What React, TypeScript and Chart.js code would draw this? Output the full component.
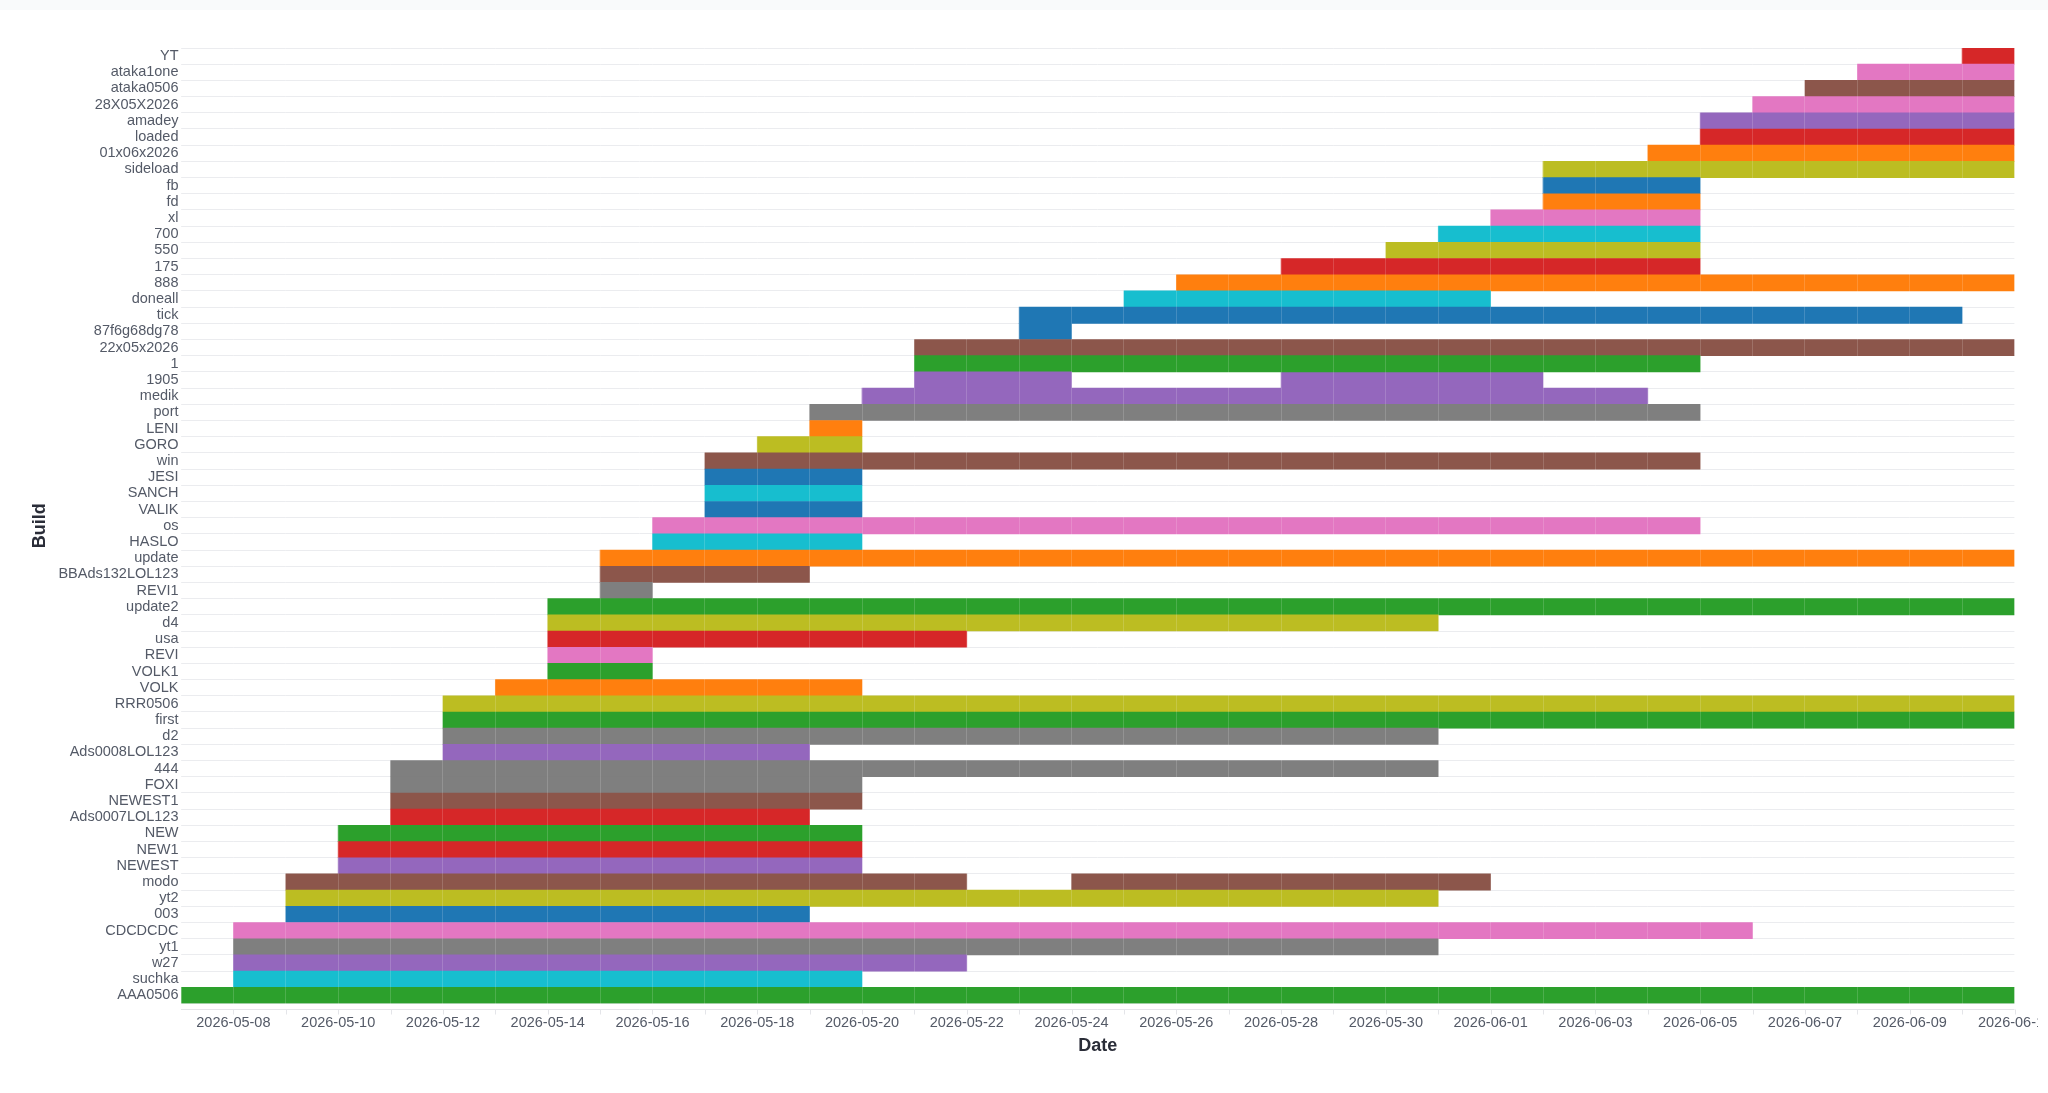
import React, { useEffect, useRef } from "react";
import { Chart, registerables } from "chart.js";

Chart.register(...registerables);

// Builds, top row first
const builds = [
  "YT", "ataka1one", "ataka0506", "28X05X2026", "amadey", "loaded", "01x06x2026", "sideload",
  "fb", "fd", "xl", "700", "550", "175", "888", "doneall", "tick", "87f6g68dg78", "22x05x2026",
  "1", "1905", "medik", "port", "LENI", "GORO", "win", "JESI", "SANCH", "VALIK", "os", "HASLO",
  "update", "BBAds132LOL123", "REVI1", "update2", "d4", "usa", "REVI", "VOLK1", "VOLK", "RRR0506",
  "first", "d2", "Ads0008LOL123", "444", "FOXI", "NEWEST1", "Ads0007LOL123", "NEW", "NEW1", "NEWEST",
  "modo", "yt2", "003", "CDCDCDC", "yt1", "w27", "suchka", "AAA0506",
];

const startDates = [
  "2026-06-10", "2026-06-08", "2026-06-07", "2026-06-06", "2026-06-05", "2026-06-05", "2026-06-04", "2026-06-02",
  "2026-06-02", "2026-06-02", "2026-06-01", "2026-05-31", "2026-05-30", "2026-05-28", "2026-05-26", "2026-05-25",
  "2026-05-23", "2026-05-23", "2026-05-21",
  "2026-05-21", "2026-05-21", "2026-05-20", "2026-05-19", "2026-05-19", "2026-05-18", "2026-05-17", "2026-05-17",
  "2026-05-17", "2026-05-17", "2026-05-16", "2026-05-16",
  "2026-05-15", "2026-05-15", "2026-05-15", "2026-05-14", "2026-05-14", "2026-05-14", "2026-05-14", "2026-05-14",
  "2026-05-13", "2026-05-12",
  "2026-05-12", "2026-05-12", "2026-05-12", "2026-05-11", "2026-05-11", "2026-05-11", "2026-05-11", "2026-05-10",
  "2026-05-10", "2026-05-10",
  "2026-05-09", "2026-05-09", "2026-05-09", "2026-05-08", "2026-05-08", "2026-05-08", "2026-05-08", "2026-05-07",
];

const endDates = [
  "2026-06-11", "2026-06-11", "2026-06-11", "2026-06-11", "2026-06-11", "2026-06-11", "2026-06-11", "2026-06-11",
  "2026-06-05", "2026-06-05", "2026-06-05", "2026-06-05", "2026-06-05", "2026-06-05", "2026-06-11", "2026-06-01",
  "2026-06-10", "2026-05-24", "2026-06-11",
  "2026-06-05", "2026-05-24", "2026-06-04", "2026-06-05", "2026-05-20", "2026-05-20", "2026-06-05", "2026-05-20",
  "2026-05-20", "2026-05-20", "2026-06-05", "2026-05-20",
  "2026-06-11", "2026-05-19", "2026-05-16", "2026-06-11", "2026-05-31", "2026-05-22", "2026-05-16", "2026-05-16",
  "2026-05-20", "2026-06-11",
  "2026-06-11", "2026-05-31", "2026-05-19", "2026-05-31", "2026-05-20", "2026-05-20", "2026-05-19", "2026-05-20",
  "2026-05-20", "2026-05-20",
  "2026-05-22", "2026-05-31", "2026-05-19", "2026-06-06", "2026-05-31", "2026-05-22", "2026-05-20", "2026-06-11",
];

// Builds that came back after a pause: their second run
const resumedBuilds = ["1905", "modo"];
const resumedStarts = ["2026-05-28", "2026-05-24"];
const resumedEnds = ["2026-06-02", "2026-06-01"];

const axisStart = "2026-05-07";
const axisEnd = "2026-06-11";

const PALETTE: Record<string, string> = {
  blue: "#1f77b4",
  orange: "#ff7f0e",
  green: "#2ca02c",
  red: "#d62728",
  purple: "#9467bd",
  brown: "#8c564b",
  pink: "#e377c2",
  gray: "#7f7f7f",
  olive: "#bcbd22",
  cyan: "#17becf",
};

const buildColors = [
  "red", "pink", "brown", "pink", "purple", "red", "orange", "olive",
  "blue", "orange", "pink", "cyan", "olive", "red", "orange", "cyan", "blue", "blue", "brown",
  "green", "purple", "purple", "gray", "orange", "olive", "brown", "blue", "cyan", "blue", "pink", "cyan",
  "orange", "brown", "gray", "green", "olive", "red", "pink", "green", "orange", "olive",
  "green", "gray", "purple", "gray", "gray", "brown", "red", "green", "red", "purple",
  "brown", "olive", "blue", "pink", "gray", "purple", "cyan", "green",
];

const DAY_MS = 86400000;
const ORIGIN = Date.parse(axisStart + "T00:00:00Z");

const toDay = (iso: string) => (Date.parse(iso + "T00:00:00Z") - ORIGIN) / DAY_MS;
const fromDay = (d: number) => new Date(ORIGIN + d * DAY_MS).toISOString().slice(0, 10);

const FONT_FAMILY = "'Liberation Sans', Arial, Helvetica, sans-serif";
const TICK_COLOR = "#545a67";
const TITLE_COLOR = "#2a2d38";

// Axis baseline with daily tick marks, set slightly below the plot area
const dateAxisLine = {
  id: "dateAxisLine",
  afterDraw(chart: any) {
    const { ctx, chartArea, scales } = chart;
    const x = scales.x;
    const yLine = Math.round(chartArea.bottom + 5.5) + 0.5;
    ctx.save();
    ctx.strokeStyle = "#e4e5e9";
    ctx.lineWidth = 1;
    ctx.beginPath();
    ctx.moveTo(chartArea.left, yLine);
    ctx.lineTo(chartArea.right, yLine);
    for (let d = x.min + 1; d <= x.max; d++) {
      const px = Math.round(x.getPixelForValue(d)) + 0.5;
      ctx.moveTo(px, yLine);
      ctx.lineTo(px, yLine + 5);
    }
    ctx.stroke();
    ctx.restore();
  },
};

export default function App() {
  const canvasRef = useRef<HTMLCanvasElement | null>(null);

  useEffect(() => {
    const canvas = canvasRef.current;
    if (!canvas) return;

    const rowColors = buildColors.map((c) => PALETTE[c]);
    const mainData = builds.map((_, i) => [toDay(startDates[i]), toDay(endDates[i])]);
    const resumedData = builds.map((b) => {
      const k = resumedBuilds.indexOf(b);
      return k < 0 ? null : [toDay(resumedStarts[k]), toDay(resumedEnds[k])];
    });

    const minDay = toDay(axisStart);
    const maxDay = toDay(axisEnd);
    const dayTicks: { value: number }[] = [];
    for (let d = minDay; d <= maxDay; d++) dayTicks.push({ value: d });

    const chart = new Chart(canvas, {
      type: "bar",
      data: {
        labels: builds,
        datasets: [
          {
            label: "Run",
            data: mainData as any,
            backgroundColor: rowColors,
            borderWidth: 0,
            barPercentage: 1,
            categoryPercentage: 1,
            grouped: false,
          },
          {
            label: "Resumed run",
            data: resumedData as any,
            backgroundColor: rowColors,
            borderWidth: 0,
            barPercentage: 1,
            categoryPercentage: 1,
            grouped: false,
          },
        ],
      },
      options: {
        indexAxis: "y",
        animation: false,
        responsive: false,
        devicePixelRatio: 1,
        layout: { padding: { top: 48, right: 85.5, bottom: 0, left: 0 } },
        plugins: {
          legend: { display: false },
          tooltip: { enabled: false },
        },
        scales: {
          x: {
            type: "linear",
            min: minDay,
            max: maxDay,
            afterBuildTicks: (scale: any) => {
              scale.ticks = dayTicks.map((t) => ({ ...t }));
            },
            afterFit: (scale: any) => {
              scale.height = 89.5;
            },
            ticks: {
              autoSkip: false,
              maxRotation: 0,
              padding: 11,
              color: TICK_COLOR,
              font: { family: FONT_FAMILY, size: 14.5 },
              callback: (v: any) => (Number(v) % 2 === 1 ? fromDay(Number(v)) : ""),
            },
            grid: {
              color: "rgba(255,255,255,0.16)",
              lineWidth: 1,
              drawTicks: false,
              z: 1,
            },
            border: { display: false },
            title: {
              display: true,
              text: "Date",
              color: TITLE_COLOR,
              font: { family: FONT_FAMILY, size: 18, weight: "bold" },
              padding: { top: 0, bottom: 36.5 },
            },
          },
          y: {
            type: "category",
            offset: true,
            afterFit: (scale: any) => {
              scale.width = 181;
            },
            ticks: {
              autoSkip: false,
              padding: 2.5,
              color: TICK_COLOR,
              font: { family: FONT_FAMILY, size: 14.5 },
            },
            grid: {
              offset: true,
              color: "#ebecef",
              lineWidth: 1,
              drawTicks: false,
            },
            border: { display: false },
            title: {
              display: true,
              text: "Build",
              color: TITLE_COLOR,
              font: { family: FONT_FAMILY, size: 18, weight: "bold" },
              padding: { top: 29, bottom: 0 },
            },
          },
        },
      },
      plugins: [dateAxisLine],
    });

    return () => chart.destroy();
  }, []);

  return (
    <div
      style={{
        position: "fixed",
        left: 0,
        top: 0,
        width: 2048,
        height: 1093,
        overflow: "hidden",
        background: "#ffffff",
      }}
    >
      <div style={{ height: 10, background: "#f9fafb" }} />
      <div
        style={{
          position: "absolute",
          left: 0,
          top: 0,
          width: 2038,
          height: 1093,
          overflow: "hidden",
        }}
      >
        <canvas
          ref={canvasRef}
          width={2100}
          height={1093}
          style={{ position: "absolute", left: 0, top: 0, display: "block" }}
        />
      </div>
    </div>
  );
}
